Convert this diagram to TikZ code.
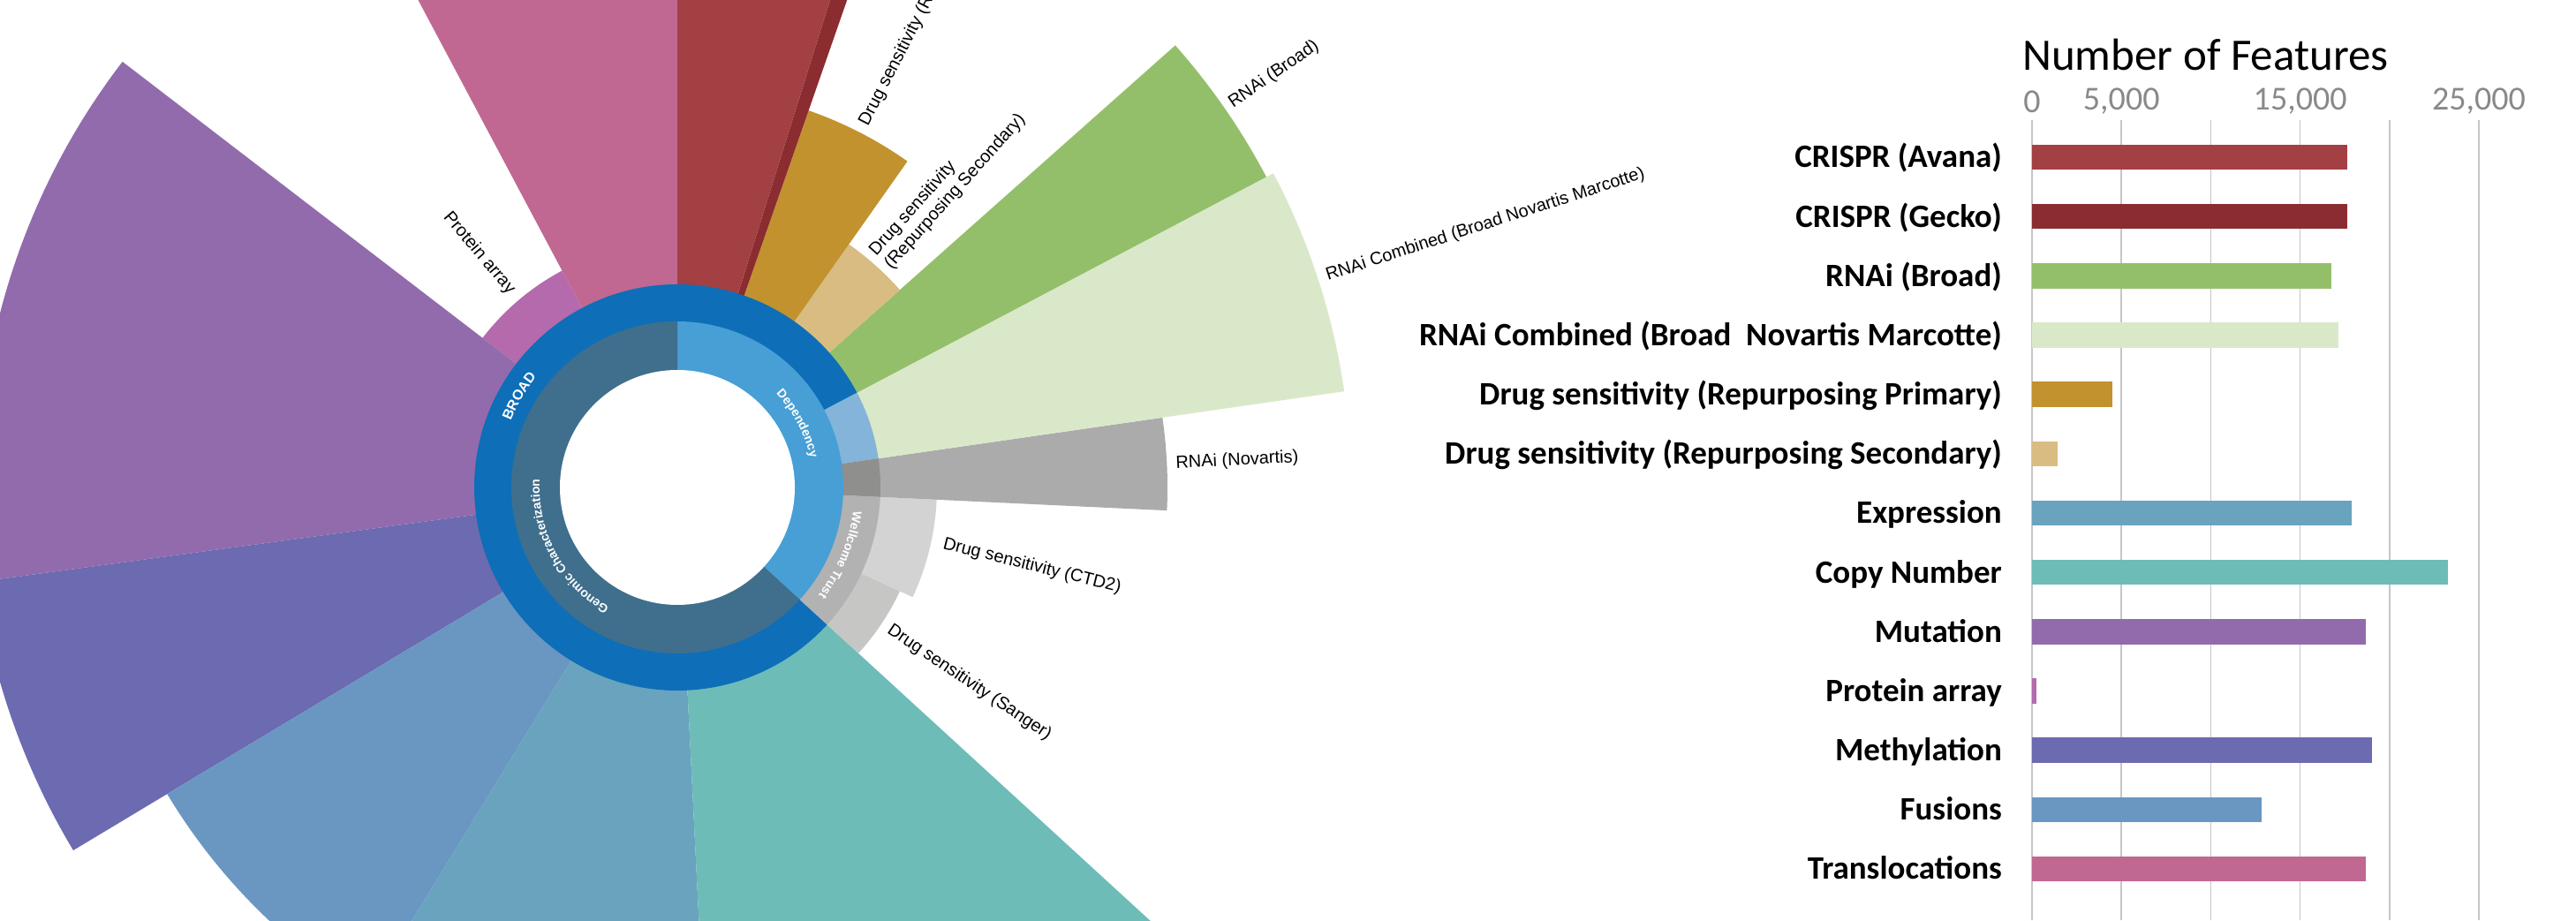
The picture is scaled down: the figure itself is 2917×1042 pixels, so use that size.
\documentclass[tikz,border=0pt]{standalone}
\usepackage{fontspec}
\setmainfont{Carlito}
\newfontfamily\arialfont{Liberation Sans}
\usetikzlibrary{decorations.text}

\definecolor{avana}{HTML}{A34043}
\definecolor{gecko}{HTML}{8B2C30}
\definecolor{rnaibroad}{HTML}{94BF6A}
\definecolor{rnaicomb}{HTML}{DAE8CA}
\definecolor{drugprim}{HTML}{C2922F}
\definecolor{drugsec}{HTML}{D9BC82}
\definecolor{expr}{HTML}{69A3BE}
\definecolor{copynum}{HTML}{6DBCB8}
\definecolor{mutation}{HTML}{926BAD}
\definecolor{protein}{HTML}{B46AAD}
\definecolor{methyl}{HTML}{6C6AB0}
\definecolor{fusion}{HTML}{6A96C2}
\definecolor{transloc}{HTML}{C06892}
\definecolor{novartis}{HTML}{ABABAB}
\definecolor{ctdtwo}{HTML}{D3D3D3}
\definecolor{sanger}{HTML}{C6C6C4}
\definecolor{dependency}{HTML}{479FD5}
\definecolor{genomic}{HTML}{3F6F8C}
\definecolor{broad}{HTML}{0E6EB8}
\definecolor{combined}{HTML}{85B4DA}
\definecolor{novring}{HTML}{8F8F8D}
\definecolor{wellcome}{HTML}{B2B2B2}
\definecolor{gridgray}{HTML}{C6C6C6}
\definecolor{tickgray}{HTML}{898989}

\newcommand\ringlabfont{\arialfont\bfseries\fontsize{14}{17}\selectfont}

\tikzset{
  barlab/.style={font=\fontsize{37}{42}\selectfont\bfseries, anchor=base east, inner sep=0pt},
  ticklab/.style={font=\fontsize{38}{44}\selectfont, text=tickgray, inner sep=0pt},
  titlelab/.style={font=\fontsize{51}{60}\selectfont, anchor=base west, inner sep=0pt},
  outlab/.style={font=\arialfont\fontsize{20}{23}\selectfont, inner sep=0pt},
  gridline/.style={gridgray, line width=1.5pt},
  ringtext/.style={decorate, decoration={text along path, text align=center, text color=white}}
}

\begin{document}
\begin{tikzpicture}[x=1pt,y=1pt]
  \useasboundingbox[fill=white] (0,0) rectangle (2917,1042);

  \def\cx{767}
  \def\cy{490}
  \coordinate (c) at (\cx,\cy);

  \begin{scope}
  \clip (0,0) rectangle (2917,1042);

  %leaves
    \foreach \sa/\ea/\rad/\col in {90/118/900/transloc, 118/142.5/278/protein, 142.5/187.7/792/mutation, 187.7/211/798/methyl,
        211/238.5/674/fusion, 238.5/272.85/900/expr, 272.85/317.5/900/copynum, -42.5/-25/278/sanger, -25/-2.7/294/ctdtwo,
        -2.7/8.2/555/novartis, 8.2/27.8/763/rnaicomb, 27.8/41.6/754/rnaibroad, 41.6/54.8/337/drugsec, 54.8/70.8/452/drugprim,
        70.8/72.6/900/gecko, 72.6/90/900/avana}{
      \fill[\col] (c) -- ([shift={(\sa:\rad pt)}]c) arc[start angle=\sa, end angle=\ea, radius=\rad pt] -- cycle;
    }

  %source ring
    \foreach \sa/\ea/\col in {27.8/90/broad, 90/317.5/broad, 8.2/27.8/combined, -2.7/8.2/novring, -42.5/-2.7/wellcome}{
      \fill[\col] (c) -- ([shift={(\sa:230pt)}]c) arc[start angle=\sa, end angle=\ea, radius=230pt] -- cycle;
    }

  %type ring
    \foreach \sa/\ea/\col in {-42.5/90/dependency, 90/317.5/genomic}{
      \fill[\col] (c) -- ([shift={(\sa:188pt)}]c) arc[start angle=\sa, end angle=\ea, radius=188pt] -- cycle;
    }
    \fill[white] (c) circle[radius=133pt];

  %ring labels
    \path[ringtext, decoration={text={|\ringlabfont|Dependency}}] ([shift={(70:154pt)}]c) arc[start angle=70, end angle=-14, radius=154pt];
    \path[ringtext, decoration={text={|\ringlabfont|Genomic Characterization}}] ([shift={(260:156pt)}]c) arc[start angle=260, end angle=157, radius=156pt];
    \path[ringtext, decoration={text={|\ringlabfont\fontsize{16}{19}\selectfont|BROAD}}] ([shift={(175:203pt)}]c) arc[start angle=175, end angle=125, radius=203pt];
    \path[ringtext, decoration={text={|\ringlabfont|Wellcome Trust}}] ([shift={(15:201pt)}]c) arc[start angle=15, end angle=-60, radius=201pt];

  %leaf labels
    \node[outlab, anchor=east, rotate=-49.75] (Lprot) at ([shift={(130.25:290pt)}]c) {Protein array};
    \node[outlab, anchor=west, rotate=48.2, align=left] (Lsec) at ([shift={(48.2:345pt)}]c) {Drug sensitivity\\(Repurposing Secondary)};
    \foreach \ang/\rot/\rad/\name/\txt in {62.8/62.8/462/Lprim/Drug sensitivity (Repurposing Primary), 34.7/34.7/762/Lbroad/RNAi (Broad),
        18/18/773/Lcomb/RNAi Combined (Broad Novartis Marcotte), 2.75/2.75/565/Lnov/RNAi (Novartis),
        -12/-14/308/Lctd/Drug sensitivity (CTD2), -33.75/-33.75/288/Lsang/Drug sensitivity (Sanger)}{
      \node[outlab, anchor=west, rotate=\rot] (\name) at ([shift={(\ang:\rad pt)}]c) {\txt};
    }
  \end{scope}

  %grid
    \foreach \k in {0,...,5}{
      \draw[gridline] (2301+101.2*\k, 0) -- (2301+101.2*\k, 906);
    }
    \foreach \k/\lab in {0/0, 1/{5,000}, 3/{15,000}, 5/{25,000}}{
      \node[ticklab] (t\k) at (2301+101.2*\k, 927) {\lab};
    }
    \node[titlelab] (title) at (2290, 962) {Number of Features};

  %bars (values in thousands)
    \foreach \i/\lab/\val/\col in {0/CRISPR (Avana)/17.64/avana, 1/CRISPR (Gecko)/17.64/gecko, 2/RNAi (Broad)/16.75/rnaibroad,
        3/RNAi Combined (Broad\ \ Novartis Marcotte)/17.15/rnaicomb, 4/Drug sensitivity (Repurposing Primary)/4.5/drugprim,
        5/Drug sensitivity (Repurposing Secondary)/1.43/drugsec, 6/Expression/17.88/expr, 7/Copy Number/23.27/copynum,
        8/Mutation/18.68/mutation, 9/Protein array/0.23/protein, 10/Methylation/19.02/methyl, 11/Fusions/12.85/fusion,
        12/Translocations/18.68/transloc}{
      \node[barlab] (l\i) at (2267, 864-67.16*\i-11.9) {\lab};
      \fill[\col] (2301, 864-67.16*\i-14.25) rectangle (2301+\val*20.24, 864-67.16*\i+14.25);
    }
\end{tikzpicture}
\end{document}
